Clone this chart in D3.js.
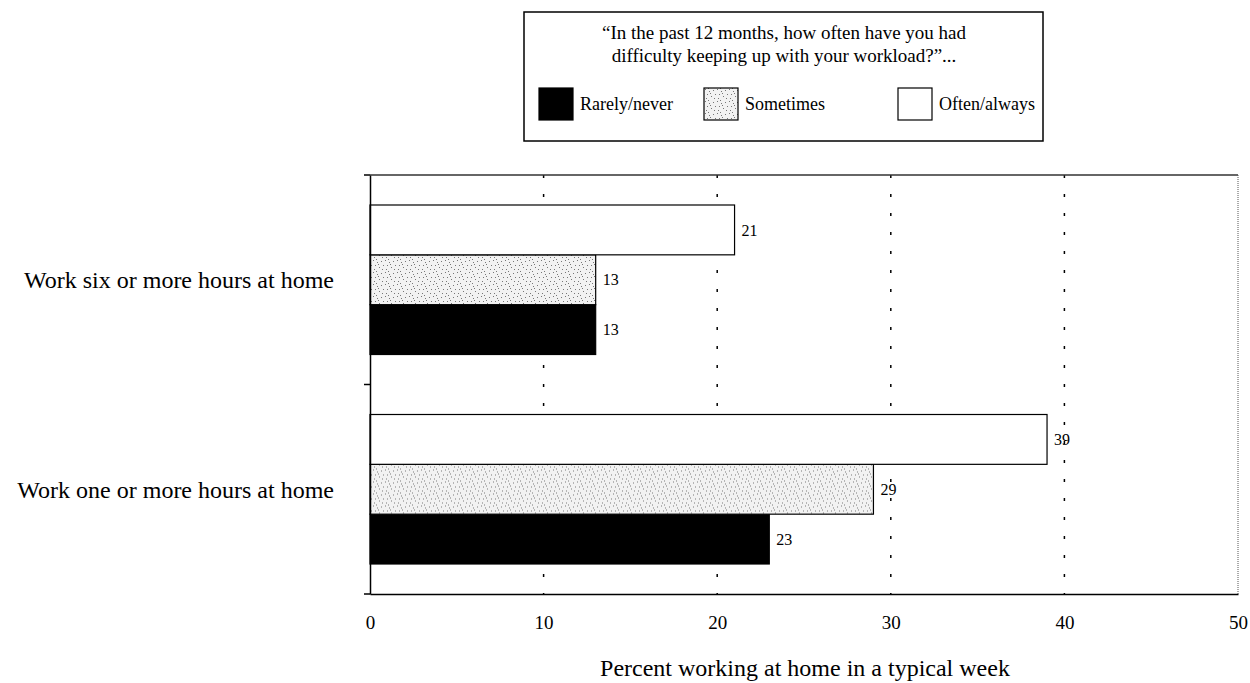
<!DOCTYPE html>
<html>
<head>
<meta charset="utf-8">
<script src="https://d3js.org/d3.v7.min.js"></script>
<style>
  body { margin: 0; background: #fff; }
  svg text { font-family: "Liberation Serif", "Times New Roman", serif; fill: #000; }
</style>
</head>
<body>
<div id="chart"></div>
<script>
// chart data
var categories = ["Work six or more hours at home", "Work one or more hours at home"];
var seriesNames = ["Rarely/never", "Sometimes", "Often/always"];
var rarelyValues = [13, 23];
var sometimesValues = [13, 29];
var oftenValues = [21, 39];
var xTicks = [0, 10, 20, 30, 40, 50];
var legendTitle = ["\u201cIn the past 12 months, how often have you had", "difficulty keeping up with your workload?\u201d..."];
var xTitle = "Percent working at home in a typical week";

var width = 1250, height = 683,
  plotLeft = 370, plotRight = 1238, plotTop = 175, plotBottom = 594;

var svg = d3.select("#chart").append("svg")
  .attr("width", width).attr("height", height);

// stippled fill for "Sometimes"
var defs = svg.append("defs");
var pat = defs.append("pattern").attr("id", "stipple")
  .attr("patternUnits", "userSpaceOnUse").attr("width", 12).attr("height", 12);
pat.append("rect").attr("width", 12).attr("height", 12).attr("fill", "#f2f2f2");
[[1,1],[5,3],[9,2],[3,6],[7,8],[10,10],[2,10],[6,5],[11,6],[4,0]].forEach(function (p) {
  pat.append("rect").attr("x", p[0]).attr("y", p[1]).attr("width", 1).attr("height", 1).attr("fill", "#777");
});

var colors = { "Rarely/never": "#000", "Sometimes": "url(#stipple)", "Often/always": "#fff" };

var x = d3.scaleLinear().domain([0, 50]).range([plotLeft, plotRight]);
var y = d3.scaleBand().domain(categories).range([plotTop, plotBottom]);
var inner = d3.scaleBand().domain(["Often/always", "Sometimes", "Rarely/never"])
  .range([30, y.bandwidth() - 30]);

var rows = categories.map(function (c, i) {
  return { cat: c, vals: [
    { s: "Rarely/never", v: rarelyValues[i] },
    { s: "Sometimes", v: sometimesValues[i] },
    { s: "Often/always", v: oftenValues[i] }
  ] };
});

// gridlines
svg.append("g").selectAll("line")
  .data(xTicks.filter(function (d) { return d > 0 && d < 50; }))
  .enter().append("line")
  .attr("x1", function (d) { return x(d); }).attr("x2", function (d) { return x(d); })
  .attr("y1", plotTop).attr("y2", plotBottom)
  .attr("stroke", "#000").attr("stroke-width", 1.5)
  .attr("stroke-dasharray", "3,16");

// frame
svg.append("line").attr("x1", plotLeft).attr("x2", plotRight).attr("y1", plotTop).attr("y2", plotTop)
  .attr("stroke", "#333").attr("stroke-width", 1.5);
svg.append("line").attr("x1", plotRight).attr("x2", plotRight).attr("y1", plotTop).attr("y2", plotBottom)
  .attr("stroke", "#555").attr("stroke-width", 1).attr("stroke-dasharray", "1,1");

// bars
var groups = svg.append("g").selectAll("g").data(rows).enter().append("g")
  .attr("transform", function (d) { return "translate(0," + y(d.cat) + ")"; });

groups.selectAll("rect").data(function (d) { return d.vals; }).enter().append("rect")
  .attr("x", x(0))
  .attr("y", function (d) { return inner(d.s); })
  .attr("width", function (d) { return x(d.v) - x(0); })
  .attr("height", inner.bandwidth())
  .attr("fill", function (d) { return colors[d.s]; })
  .attr("stroke", "#000").attr("stroke-width", 1.2);

groups.selectAll("text").data(function (d) { return d.vals; }).enter().append("text")
  .attr("x", function (d) { return x(d.v) + 7; })
  .attr("y", function (d) { return inner(d.s) + inner.bandwidth() / 2; })
  .attr("dy", "0.35em")
  .style("font-size", "16px")
  .text(function (d) { return d.v; });

// x axis
var xAxis = d3.axisBottom(x).tickValues(xTicks).tickSize(0).tickPadding(22);
var gx = svg.append("g").attr("transform", "translate(0," + plotBottom + ")").call(xAxis);
gx.select(".domain").attr("stroke", "#000").attr("stroke-width", 1.5);
gx.selectAll("text").style("font-size", "19px").style("font-family", "Liberation Serif");

// y axis
var yAxis = d3.axisLeft(y).tickValues([]).tickSizeOuter(0);
var gy = svg.append("g").attr("transform", "translate(" + plotLeft + ",0)").call(yAxis);
gy.select(".domain").attr("stroke", "#000").attr("stroke-width", 1.5);
gy.selectAll("line.div").data([plotTop, y(categories[1]), plotBottom]).enter().append("line")
  .attr("class", "div").attr("x1", -6).attr("x2", 0)
  .attr("y1", function (d) { return d; }).attr("y2", function (d) { return d; })
  .attr("stroke", "#000").attr("stroke-width", 1.5);

// category labels
svg.append("g").selectAll("text").data(categories).enter().append("text")
  .attr("x", 334)
  .attr("y", function (d) { return y(d) + y.bandwidth() / 2; })
  .attr("dy", "0.35em")
  .attr("text-anchor", "end")
  .style("font-size", "24px")
  .text(function (d) { return d; });

// x title
svg.append("text").attr("x", 805).attr("y", 676)
  .attr("text-anchor", "middle").style("font-size", "24px").text(xTitle);

// legend
var lg = svg.append("g");
lg.append("rect").attr("x", 524).attr("y", 12).attr("width", 519).attr("height", 129)
  .attr("fill", "#fff").attr("stroke", "#000").attr("stroke-width", 1.5);
lg.selectAll("text.t").data(legendTitle).enter().append("text").attr("class", "t")
  .attr("x", 784).attr("y", function (d, i) { return 39 + i * 23; })
  .attr("text-anchor", "middle").style("font-size", "19px").text(function (d) { return d; });
var legendX = [539, 704, 898];
var items = lg.selectAll("g.item").data(seriesNames).enter().append("g").attr("class", "item")
  .attr("transform", function (d, i) { return "translate(" + legendX[i] + ",88)"; });
items.append("rect").attr("width", 34).attr("height", 32)
  .attr("fill", function (d) { return colors[d]; })
  .attr("stroke", "#000").attr("stroke-width", 1.2);
items.append("text").attr("x", 41).attr("y", 16).attr("dy", "0.35em")
  .style("font-size", "18px").text(function (d) { return d; });
</script>
</body>
</html>
